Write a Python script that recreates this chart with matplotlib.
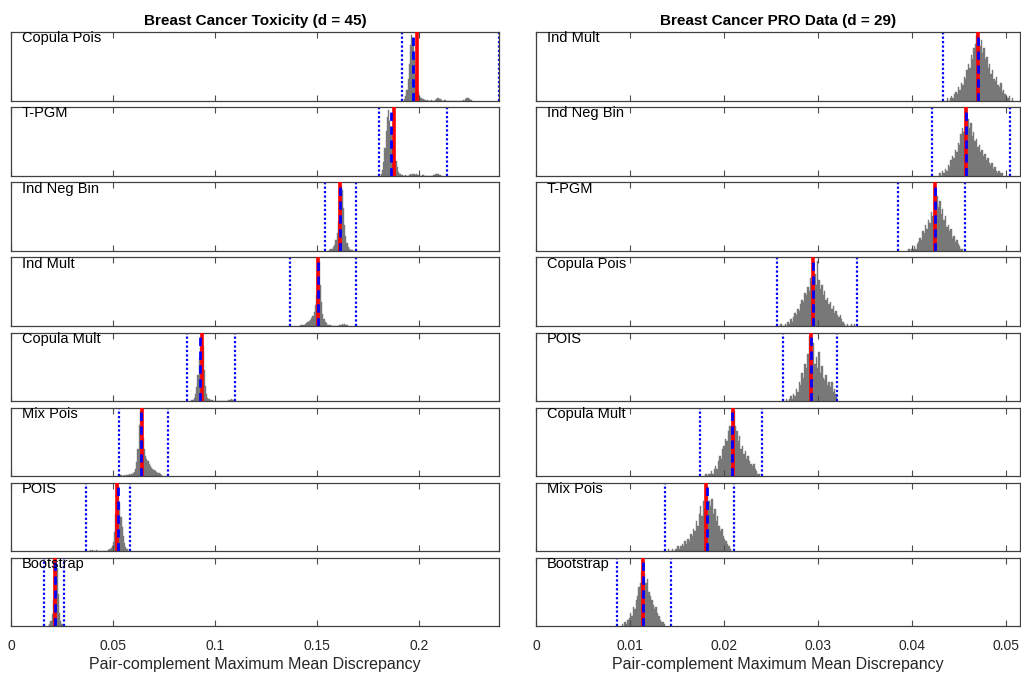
import numpy as np
import matplotlib
matplotlib.use('Agg')
import matplotlib.pyplot as plt

plt.rcParams['font.family'] = ['Liberation Sans', 'DejaVu Sans']

# ---- left column: Breast Cancer Toxicity (d = 45) ----
tox_names = ['Copula Pois', 'T-PGM', 'Ind Neg Bin', 'Ind Mult',
             'Copula Mult', 'Mix Pois', 'POIS', 'Bootstrap']
tox_observed = [0.1989, 0.1876, 0.1613, 0.1506, 0.0936, 0.0642, 0.0518, 0.0216]
tox_mean = [0.1972, 0.1863, 0.1613, 0.1506, 0.0926, 0.0636, 0.0523, 0.0216]
tox_lower = [0.1917, 0.1804, 0.1539, 0.1368, 0.0861, 0.0531, 0.0368, 0.0163]
tox_upper = [0.2390, 0.2139, 0.1690, 0.1690, 0.1098, 0.0771, 0.0583, 0.0261]
tox_hist_start = [0.1926, 0.1812, 0.1560, 0.1417, 0.0884, 0.0518, 0.0380, 0.0181]
tox_bin_width = 0.0006
tox_counts = [
    [2, 6, 15, 30, 52, 78, 92, 88, 60, 38, 22, 12, 7, 4, 3, 2, 1, 1, 0, 1,
     0, 0, 1, 0, 0, 1, 2, 3, 4, 2, 1, 0, 0, 1, 0, 0, 0, 0, 0, 0,
     0, 0, 0, 0, 0, 0, 0, 0, 1, 0, 2, 4, 3, 2, 1, 1],
    [3, 8, 20, 40, 65, 85, 95, 80, 62, 48, 35, 30, 22, 12, 6, 3, 2, 1, 0, 0,
     1, 0, 0, 1, 2, 1, 3, 2, 1, 2, 1, 0, 0, 0, 1, 0, 0, 0, 0, 0,
     0, 0, 0, 1, 2, 3, 2, 3, 1, 0],
    [1, 2, 3, 5, 9, 15, 26, 44, 72, 95, 88, 62, 38, 22, 12, 6, 3, 1, 1],
    [1, 1, 2, 2, 3, 4, 5, 7, 9, 12, 15, 20, 30, 45, 80, 95, 60, 35, 18, 10,
     6, 4, 2, 1, 1, 0, 0, 0, 0, 0, 0, 0, 1, 2, 3, 2, 3, 1, 1],
    [1, 2, 5, 10, 20, 38, 62, 85, 95, 80, 45, 22, 10, 5, 3, 2, 1, 1, 0, 0,
     0, 0, 0, 0, 0, 0, 0, 0, 0, 0, 1, 2, 3, 2, 1],
    [1, 0, 1, 2, 1, 1, 2, 1, 2, 2, 3, 2, 3, 4, 6, 10, 20, 40, 75, 95,
     80, 55, 40, 30, 25, 22, 18, 15, 12, 10, 9, 8, 6, 5, 4, 3, 2, 1],
    [1, 2, 1, 2, 1, 1, 2, 1, 0, 1, 0, 1, 0, 0, 1, 1, 2, 3, 5, 8,
     14, 28, 55, 90, 95, 70, 50, 35, 22, 12, 6, 3],
    [1, 3, 8, 18, 38, 72, 95, 85, 48, 20, 8, 3, 1],
]
tox_xlim = (0, 0.2392)
tox_ticks = [0, 0.05, 0.1, 0.15, 0.2]
tox_ticklabels = ['0', '0.05', '0.1', '0.15', '0.2']

# ---- right column: Breast Cancer PRO Data (d = 29) ----
pro_names = ['Ind Mult', 'Ind Neg Bin', 'T-PGM', 'Copula Pois',
             'POIS', 'Copula Mult', 'Mix Pois', 'Bootstrap']
pro_observed = [0.0470, 0.0458, 0.04245, 0.0295, 0.0293, 0.0210, 0.0181, 0.0114]
pro_mean = [0.0470, 0.0458, 0.04245, 0.0295, 0.0293, 0.0209, 0.0182, 0.0114]
pro_lower = [0.0433, 0.0421, 0.0385, 0.0256, 0.0263, 0.0175, 0.0137, 0.0086]
pro_upper = [0.0522, 0.0504, 0.0457, 0.0342, 0.0320, 0.0240, 0.0211, 0.0144]
pro_hist_start = [0.0437, 0.0429, 0.0396, 0.0260, 0.0266, 0.0180, 0.0140, 0.0091]
pro_bin_width = 0.00015
pro_counts = [
    [1, 0, 1, 2, 1, 3, 4, 3, 6, 5, 8, 7, 11, 10, 14, 17, 15, 21, 19, 24,
     26, 30, 27, 25, 28, 22, 24, 19, 20, 15, 17, 12, 14, 10, 9, 11, 7, 6, 8, 4,
     5, 3, 2, 1, 2, 0, 1],
    [1, 0, 2, 1, 3, 2, 5, 4, 7, 9, 8, 12, 11, 15, 14, 19, 22, 20, 25, 30,
     26, 22, 24, 18, 20, 16, 17, 13, 14, 11, 12, 9, 10, 7, 8, 6, 5, 6, 3, 4,
     2, 1, 2, 1, 1],
    [1, 0, 1, 1, 2, 1, 3, 4, 6, 5, 9, 8, 12, 10, 14, 13, 18, 16, 22, 30,
     25, 20, 23, 17, 19, 14, 16, 11, 12, 9, 10, 6, 7, 4, 5, 3, 2, 1, 1],
    [1, 0, 0, 1, 0, 2, 1, 3, 2, 4, 6, 5, 8, 7, 10, 12, 11, 15, 14, 18,
     16, 22, 20, 26, 24, 19, 30, 21, 17, 19, 14, 16, 12, 13, 10, 11, 8, 9, 6, 7,
     5, 4, 5, 3, 2, 1, 0, 1, 0, 0, 1, 0, 1],
    [1, 0, 1, 2, 1, 3, 2, 5, 4, 8, 7, 12, 10, 16, 14, 20, 28, 18, 22, 25,
     16, 19, 14, 21, 12, 15, 10, 9, 11, 7, 8, 6, 8, 4, 5, 3],
    [1, 0, 1, 1, 2, 1, 3, 4, 3, 6, 8, 7, 11, 12, 15, 14, 18, 20, 17, 22,
     26, 20, 18, 14, 16, 11, 12, 9, 10, 7, 8, 6, 5, 4, 5, 3, 2, 1, 1],
    [1, 0, 0, 1, 0, 1, 1, 2, 1, 2, 3, 2, 4, 3, 5, 4, 7, 6, 9, 8,
     12, 10, 15, 18, 14, 20, 17, 22, 26, 20, 18, 21, 15, 17, 12, 14, 10, 8, 9, 6,
     5, 4, 3, 2, 1],
    [1, 0, 2, 1, 3, 4, 6, 5, 9, 8, 12, 14, 18, 20, 25, 30, 24, 20, 22, 16,
     14, 12, 10, 8, 9, 6, 5, 3, 2, 2, 1],
]
pro_xlim = (0, 0.0515)
pro_ticks = [0, 0.01, 0.02, 0.03, 0.04, 0.05]
pro_ticklabels = ['0', '0.01', '0.02', '0.03', '0.04', '0.05']

W, H = 1021, 675
fig = plt.figure(figsize=(W / 100, H / 100), dpi=100)


def draw_panel(ax, start, width, counts, obs, mean, lo, hi, name, xlim, ticks):
    counts = np.array(counts)
    edges = start + width * np.arange(len(counts))
    ax.bar(edges, counts, width=width, align='edge', color='0.47',
           edgecolor='0.47', linewidth=0.3, zorder=1)
    ax.axvline(lo, color='blue', linestyle=(0, (1, 1)), linewidth=1.6, zorder=2)
    ax.axvline(hi, color='blue', linestyle=(0, (1, 1)), linewidth=1.6, zorder=2)
    ax.axvline(obs, color='red', linestyle='-', linewidth=2.6, zorder=3)
    ax.axvline(mean, color='blue', linestyle=(0, (3, 2)), linewidth=2.0, zorder=4)
    ax.set_xlim(*xlim)
    ax.set_ylim(0, counts.max() * 1.05)
    ax.set_yticks([])
    ax.set_xticks(ticks)
    ax.tick_params(axis='x', direction='in', top=True, bottom=True,
                   length=4, width=0.8, color='0.3', labelsize=10,
                   labelcolor='0.15', pad=9)
    for s in ax.spines.values():
        s.set_color('0.25')
        s.set_linewidth(0.9)
    ax.text(0.022, 1.01, name, transform=ax.transAxes, ha='left', va='top',
            fontsize=10.5, zorder=5)


top0, step, h = 32, 75.14, 68.5
columns = [
    (11, 499, tox_names, tox_observed, tox_mean, tox_lower, tox_upper,
     tox_hist_start, tox_bin_width, tox_counts, tox_xlim, tox_ticks,
     tox_ticklabels, 'Breast Cancer Toxicity (d = 45)'),
    (536, 1020, pro_names, pro_observed, pro_mean, pro_lower, pro_upper,
     pro_hist_start, pro_bin_width, pro_counts, pro_xlim, pro_ticks,
     pro_ticklabels, 'Breast Cancer PRO Data (d = 29)'),
]

for (x0, x1, names, obs, mean, lo, hi, starts, bw, counts,
     xlim, ticks, ticklabels, title) in columns:
    for i in range(len(names)):
        top = top0 + step * i
        ax = fig.add_axes([x0 / W, 1 - (top + h) / H, (x1 - x0) / W, h / H])
        draw_panel(ax, starts[i], bw, counts[i], obs[i], mean[i], lo[i], hi[i],
                   names[i], xlim, ticks)
        if i == 0:
            ax.set_title(title, fontsize=11, fontweight='bold', pad=5)
        if i == len(names) - 1:
            ax.set_xticklabels(ticklabels)
            ax.set_xlabel('Pair-complement Maximum Mean Discrepancy',
                          fontsize=11.5, color='0.15', labelpad=3)
        else:
            ax.set_xticklabels([])

fig.savefig('out.png', dpi=100)
